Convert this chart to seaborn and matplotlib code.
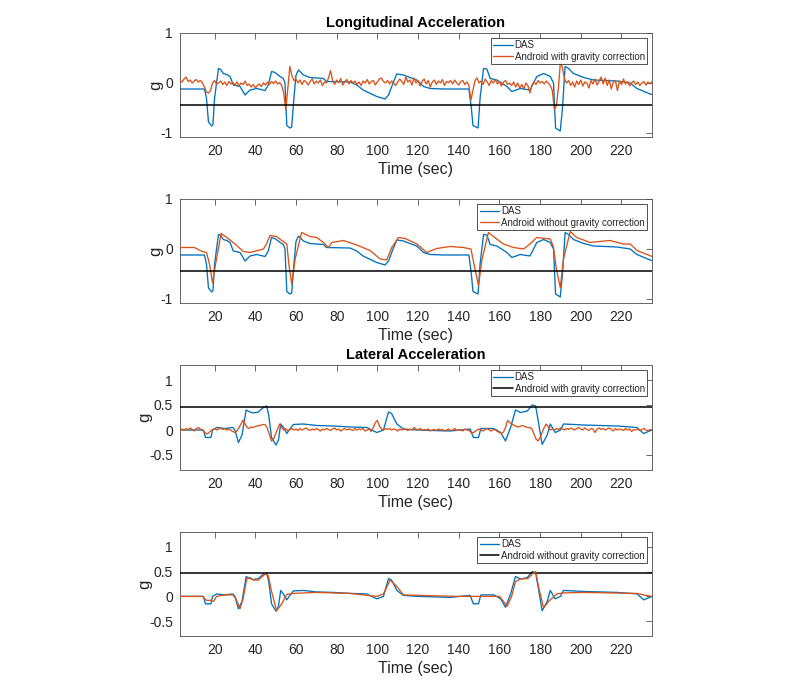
import numpy as np
import pandas as pd
import matplotlib
matplotlib.use("Agg")
import matplotlib.pyplot as plt
import seaborn as sns

# ---------------- data ----------------
# Longitudinal DAS (shared by panels 1 and 2)
das_lon_t = [3, 15, 16, 17, 18.6, 19.2, 20, 21.9, 23, 24.3, 26, 27.6, 29.2, 32.5, 35, 37.4, 40.7, 44.8, 46.4, 48,
             49.7, 52.2, 53.8, 54.6, 55.5, 57, 57.9, 59, 60, 61.2, 63.7, 66.9, 73.5, 75, 86.6, 89.9, 93, 99.7, 103.8,
             105.5, 108, 109.6, 112.8, 116, 119.4, 122.7, 126, 132.5, 145, 146.2, 147, 149.5, 150.5, 152.2, 153.8,
             155.5, 158.7, 163.7, 166.1, 170.2, 175, 178.4, 181.7, 185, 186.6, 187.6, 189.9, 191, 192.3, 194, 196.4,
             201.4, 206.3, 217.8, 224.3, 227.6, 234.1, 235]
das_lon_v = [-0.12, -0.12, -0.3, -0.78, -0.86, -0.83, -0.3, 0.29, 0.27, 0.19, 0.17, 0.13, -0.04, -0.07, -0.24, -0.14,
             -0.11, -0.15, -0.04, 0.23, 0.21, 0.13, 0.09, 0.0, -0.85, -0.9, -0.88, -0.3, 0.15, 0.26, 0.16, 0.11, 0.09,
             0.03, 0.02, -0.04, -0.14, -0.27, -0.32, -0.24, 0.03, 0.18, 0.16, 0.11, 0.06, -0.07, -0.11, -0.12, -0.12,
             -0.5, -0.85, -0.9, -0.3, 0.29, 0.28, 0.09, 0.06, -0.07, -0.17, -0.11, -0.14, 0.13, 0.19, 0.13, 0.0, -0.9,
             -0.96, -0.5, 0.33, 0.29, 0.19, 0.11, 0.06, 0.04, 0.0, -0.11, -0.22, -0.23]

# Android with gravity correction, longitudinal (1 s samples from t = 3)
and_lon_grav_v = [
    0.05, 0.02, 0.08, 0.12, 0.03, 0.06, 0.0, 0.04, 0.07, 0.02, 0.05, 0.01,
    -0.08, -0.18, -0.2, -0.15, 0.0,
    0.05, -0.02, 0.0, 0.04, -0.03, 0.02, -0.05, 0.03, -0.02, 0.01, -0.04,
    0.02, -0.06, 0.0, -0.03, 0.04, -0.05, -0.02, -0.08, -0.03, -0.1, -0.05,
    -0.02, -0.07, 0.0, -0.04, 0.02, -0.03, 0.03, -0.01, 0.04, -0.02, 0.01, -0.05,
    -0.2, -0.54, -0.1, 0.33, 0.15, 0.05, 0.08,
    0.0, 0.06, -0.03, 0.05, 0.02, -0.04, 0.03, 0.08, -0.02, 0.04, 0.0, 0.06, -0.05, 0.02, 0.0,
    0.1, 0.25, 0.05, -0.03, 0.06, 0.01, 0.09, -0.04, 0.03, 0.07, -0.02, 0.05, 0.0, 0.04, -0.03,
    0.02, -0.05, 0.04, 0.0, 0.07, -0.02, 0.03, 0.05, -0.04, 0.02, 0.08, 0.1, 0.03, 0.0, 0.05,
    -0.02, 0.04, 0.0, -0.05, 0.02, 0.08, 0.03, -0.03, 0.12, 0.02, 0.06, -0.04, 0.1, 0.0, 0.05,
    -0.06, 0.03, 0.08, -0.02, 0.05, -0.08, 0.02, 0.06, -0.03, 0.04, 0.0, 0.07, -0.05, 0.03, 0.01,
    0.05, -0.02, 0.06, 0.0, -0.04, 0.03, 0.05, -0.03, 0.02, -0.05,
    -0.34, -0.15, 0.05, 0.1, 0.0,
    0.04, -0.03, 0.08, 0.02, -0.05, 0.05, 0.0, 0.07, -0.02, 0.03, -0.06, 0.02, 0.05, -0.03, 0.0,
    -0.05, 0.02, -0.08, 0.0, -0.1, -0.03, -0.12, 0.0, -0.05, -0.2, -0.04, 0.02, -0.03, 0.05, 0.0, 0.03, -0.02,
    0.04, 0.0, -0.05, -0.15,
    -0.53, -0.45, -0.1, 0.43, 0.3, 0.08, 0.0,
    0.05, -0.05, 0.02, -0.08, 0.04, -0.03, 0.06, -0.06, 0.02, 0.0, -0.1, 0.05, -0.02, 0.08, -0.04, 0.03, 0.12,
    -0.02, 0.1, -0.05, 0.06, -0.12, 0.02, 0.05, -0.15, 0.04, -0.03, 0.08, -0.02, 0.03, -0.06, 0.0,
    0.04, -0.03, 0.02, -0.05, 0.0, 0.03, -0.04, 0.02, -0.02, 0.03]

# Android without gravity correction, longitudinal
and_lon_raw_t = [3, 10, 14, 16, 17.5, 19, 20.5, 23.2, 27.6, 30.9, 34.1, 37.4, 44, 45.5, 47.3, 50.5, 53, 55.5, 56.5,
                 57.9, 59.6, 62.8, 66.9, 70.2, 73.5, 75.9, 77.6, 83.3, 89.9, 96.4, 101.4, 104.6, 107.1, 110.4, 113.7,
                 119.4, 124.3, 129.2, 135.8, 142.3, 146, 147.5, 149.7, 151.5, 154.6, 158.7, 162, 166.9, 171.9, 175,
                 178.4, 185, 186.5, 188, 189.9, 191.5, 194.8, 198, 204.6, 209, 214.4, 221, 224.3, 227.6, 232, 235]
and_lon_raw_v = [0.03, 0.03, -0.05, -0.07, -0.3, -0.68, -0.3, 0.31, 0.18, 0.07, -0.05, -0.07, 0.0, 0.1, 0.27, 0.25,
                 0.17, 0.1, -0.3, -0.7, -0.2, 0.33, 0.25, 0.23, 0.13, 0.03, 0.13, 0.17, 0.08, -0.03, -0.2, -0.22,
                 0.03, 0.23, 0.21, 0.1, -0.07, 0.01, 0.05, 0.03, 0.0, -0.3, -0.73, -0.2, 0.33, 0.2, 0.1, 0.03, 0.0,
                 0.1, 0.23, 0.2, 0.05, -0.4, -0.77, -0.2, 0.35, 0.23, 0.13, 0.15, 0.17, 0.1, 0.1, -0.03, -0.1, -0.15]

# Lateral DAS (shared by panels 3 and 4)
das_lat_t = [3, 14.5, 15.5, 18.2, 19, 21, 25, 29, 30, 31.7, 33.5, 35.5, 37.4, 39, 41.5, 44, 45.6, 46.6, 48, 50.2,
             51.4, 52.5, 53.8, 55.5, 57, 58.7, 63.7, 70.2, 78.4, 86.6, 94.8, 99.7, 103, 105.5, 107, 109.6, 112.8,
             119.4, 135.8, 145.6, 147.2, 149.7, 150.9, 157.3, 160.6, 163, 165.5, 167.9, 170.4, 173.7, 176.1, 177.8,
             179, 181, 183.5, 185, 187.4, 190, 191.5, 201.4, 217.8, 227.6, 230.9, 235]
das_lat_v = [0.0, 0.0, -0.15, -0.15, 0.0, 0.05, 0.03, 0.05, 0.0, -0.25, -0.1, 0.4, 0.36, 0.34, 0.36, 0.45, 0.48,
             0.3, -0.15, -0.3, -0.2, 0.12, 0.05, -0.07, 0.02, 0.11, 0.12, 0.09, 0.08, 0.06, 0.05, -0.05, 0.0, 0.36,
             0.33, 0.12, 0.02, 0.0, -0.02, 0.02, -0.15, -0.15, 0.03, 0.03, -0.05, -0.22, 0.05, 0.4, 0.35, 0.38, 0.5,
             0.48, 0.2, -0.29, -0.1, 0.12, -0.05, 0.0, 0.12, 0.1, 0.08, 0.05, -0.07, 0.0]

# Android with gravity correction, lateral (1 s samples from t = 3)
and_lat_grav_v = [
    0.0, 0.02, -0.01, 0.03, 0.0, 0.04, 0.01, -0.02, 0.03, 0.05, 0.02, 0.0,
    -0.04, -0.08, -0.06, -0.02, 0.01, 0.03,
    0.0, 0.02, 0.04, 0.01, 0.03, 0.0, 0.02, -0.01, -0.03, -0.05,
    -0.02, 0.05, 0.12, 0.2, 0.12, 0.05, 0.03, 0.06, 0.05, 0.07,
    0.08, 0.09, 0.1, 0.11, 0.1, 0.03, -0.1, -0.22, -0.18, -0.08, 0.02, 0.12,
    0.05, 0.0, 0.03, -0.02, 0.01, 0.03, 0.0, 0.02, -0.01, 0.03, 0.0, 0.02, 0.04, 0.01, -0.01, 0.02, 0.0, 0.03,
    0.01, -0.02, 0.02, 0.0, 0.03, 0.01, -0.01, 0.02, 0.04, 0.0, 0.02, -0.02, 0.01, 0.03, 0.0, 0.02, 0.01, -0.01,
    0.03, 0.0, 0.02, 0.01, 0.03, -0.02, 0.0,
    0.02, -0.03, 0.05, 0.15, 0.19, 0.08, 0.02, 0.0, 0.03, 0.01,
    0.03, 0.0, 0.02, 0.01, -0.02, 0.02, 0.0, 0.03, 0.01, -0.01, 0.02, 0.0, 0.05, 0.02, 0.0, 0.03, -0.01, 0.01,
    0.0, 0.02, -0.02, 0.0, 0.01, -0.01, 0.02,
    0.0, 0.01, -0.02, 0.0, 0.02, -0.01, 0.0, 0.03, -0.01, 0.01, 0.0, -0.02, 0.02, 0.0, -0.01, -0.04, -0.06,
    -0.03, 0.0, 0.02, 0.0, -0.02, 0.01, 0.03, 0.0, -0.02, 0.01, 0.0, -0.03, -0.05,
    -0.07, -0.04, 0.05, 0.19, 0.15, 0.12, 0.1, 0.08, 0.06, 0.07,
    0.09, 0.08, 0.06, 0.05, 0.05, 0.02, -0.08, -0.18, -0.22, -0.15, -0.05, 0.05, 0.12, 0.06, 0.0, 0.02, 0.0,
    0.03, 0.01, 0.04, 0.02, 0.0, 0.03, 0.01, 0.04, 0.02, 0.0, 0.03, 0.05, 0.02, 0.0, 0.04, 0.01, -0.01, 0.03,
    0.02, -0.05, 0.02, 0.04, 0.01,
    0.03, 0.0, 0.02, 0.04, 0.01, -0.02, 0.03, 0.0, 0.02, 0.01, -0.01, 0.03, 0.0, 0.02, -0.03, 0.01, 0.0, 0.02,
    -0.01, 0.01, 0.03, 0.0, -0.02, 0.01, 0.0]

# Android without gravity correction, lateral
and_lat_raw_t = [3, 14, 16, 18, 19.5, 21, 25, 29, 30.5, 32.5, 34, 35.8, 37.4, 39, 41.5, 44.8, 46.4, 48, 50.5, 53,
                 55.5, 58.7, 70.2, 86.6, 99.7, 103, 106.3, 109.6, 112.8, 120, 140, 160, 162, 163.8, 166, 167.9,
                 170.4, 174, 176.1, 177.8, 179.2, 181.7, 184.2, 188.2, 191.5, 201.4, 227.6, 232, 235]
and_lat_raw_v = [0.0, 0.0, -0.08, -0.08, -0.1, 0.0, 0.03, 0.03, -0.05, -0.25, -0.05, 0.35, 0.38, 0.33, 0.33, 0.45,
                 0.42, 0.1, -0.29, -0.15, 0.04, 0.06, 0.08, 0.06, 0.0, 0.05, 0.33, 0.2, 0.03, 0.02, 0.0, 0.0, -0.1,
                 -0.2, 0.0, 0.3, 0.35, 0.36, 0.45, 0.5, 0.2, -0.23, -0.1, 0.05, 0.07, 0.08, 0.06, 0.02, 0.0]

lon_threshold = -0.44
lat_threshold = 0.47

titles = ["Longitudinal Acceleration", "", "Lateral Acceleration", ""]
legend_second = ["Android with gravity correction", "Android without gravity correction",
                 "Android with gravity correction", "Android without gravity correction"]
x_ticks = [20, 40, 60, 80, 100, 120, 140, 160, 180, 200, 220]
lon_yticks = [-1, 0, 1]
lat_yticks = [-0.5, 0, 0.5, 1]

# ---------------- style ----------------
sns.set_theme(style="white")
plt.rcParams["font.family"] = ["Liberation Sans", "DejaVu Sans"]

BLUE = "#0072BD"
ORANGE = "#D95319"
AXC = "#4d4d4d"
TXT = "#262626"

fig = plt.figure(figsize=(8, 6.9), dpi=100)
W, H = 800, 690
left_px, right_px = 180, 652
tops = [33, 199, 365, 532]
bottoms = [137, 303, 470, 636]
axes = []
for tp, bt in zip(tops, bottoms):
    ax = fig.add_axes([left_px / W, 1 - bt / H, (right_px - left_px) / W, (bt - tp) / H])
    axes.append(ax)

t_lon_grav = np.arange(3, 3 + len(and_lon_grav_v))
t_lat_grav = np.arange(3, 3 + len(and_lat_grav_v))

panels = [
    (das_lon_t, das_lon_v, t_lon_grav, and_lon_grav_v, lon_threshold, False),
    (das_lon_t, das_lon_v, and_lon_raw_t, and_lon_raw_v, lon_threshold, False),
    (das_lat_t, das_lat_v, t_lat_grav, and_lat_grav_v, lat_threshold, True),
    (das_lat_t, das_lat_v, and_lat_raw_t, and_lat_raw_v, lat_threshold, True),
]

LW = 0.95
for i, (ax, (dt, dv, at, av, thr, lateral)) in enumerate(zip(axes, panels)):
    sns.lineplot(x=dt, y=dv, ax=ax, color=BLUE, lw=LW, zorder=2)
    blue_line = ax.lines[-1]
    if lateral:
        black_line = ax.axhline(thr, color="black", lw=1.1, zorder=3)
        sns.lineplot(x=at, y=av, ax=ax, color=ORANGE, lw=LW, zorder=4)
        handles = [blue_line, black_line]
    else:
        sns.lineplot(x=at, y=av, ax=ax, color=ORANGE, lw=LW, zorder=3)
        orange_line = ax.lines[-1]
        ax.axhline(thr, color="black", lw=1.1, zorder=4)
        handles = [blue_line, orange_line]

    ax.set_xlim(3, 235)
    if lateral:
        ax.set_ylim(-0.8, 1.3)
        ax.set_yticks(lat_yticks)
        ax.set_yticklabels(["-0.5", "0", "0.5", "1"])
    else:
        ax.set_ylim(-1.08, 1.0)
        ax.set_yticks(lon_yticks)
        ax.set_yticklabels(["-1", "0", "1"])
    ax.set_xticks(x_ticks)
    ax.set_xticklabels([str(v) for v in x_ticks])
    ax.tick_params(direction="in", top=True, right=True, length=4, width=0.6,
                   colors=AXC, labelcolor=TXT, labelsize=10, pad=5)
    for sp in ax.spines.values():
        sp.set_color(AXC)
        sp.set_linewidth(0.6)
    ax.set_xlabel("Time (sec)", fontsize=11.5, color=TXT, labelpad=3)
    ax.set_ylabel("g", fontsize=12, color=TXT, labelpad=-2)
    if titles[i]:
        ax.set_title(titles[i], fontsize=10.5, fontweight="bold", color="black", pad=4)

    leg = ax.legend(handles, ["DAS", legend_second[i]], loc="upper right", fontsize=7,
                    frameon=True, fancybox=False, framealpha=1, edgecolor="#333333",
                    borderpad=0.25, labelspacing=0.15, handlelength=2.0, handletextpad=0.2,
                    borderaxespad=0.5)
    leg.get_frame().set_linewidth(0.6)

fig.savefig("out.png", dpi=100)
